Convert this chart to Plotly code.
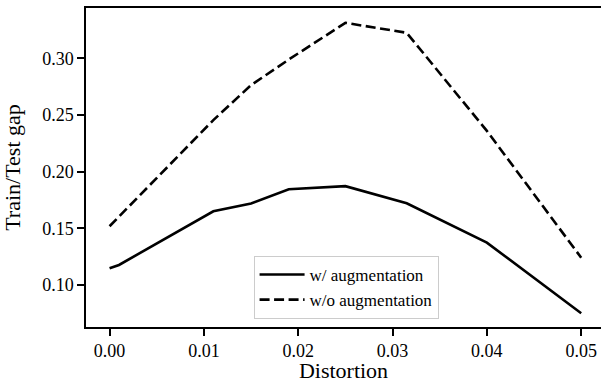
import plotly.graph_objects as go

# Data
x_aug = [0.0, 0.001, 0.011, 0.015, 0.019, 0.025, 0.0315, 0.040, 0.050]
y_aug = [0.1147, 0.1176, 0.1650, 0.1718, 0.1845, 0.1872, 0.1720, 0.1373, 0.0750]

x_noaug = [0.0, 0.011, 0.015, 0.019, 0.025, 0.0315, 0.040, 0.050]
y_noaug = [0.1518, 0.2455, 0.2764, 0.2990, 0.3314, 0.3226, 0.2360, 0.1240]

x_ticks = [0.00, 0.01, 0.02, 0.03, 0.04, 0.05]
y_ticks = [0.10, 0.15, 0.20, 0.25, 0.30]

FONT = "Liberation Serif"

fig = go.Figure()
fig.add_trace(go.Scatter(x=x_aug, y=y_aug, mode="lines", name="w/ augmentation",
                         line=dict(color="black", width=2.6)))
fig.add_trace(go.Scatter(x=x_noaug, y=y_noaug, mode="lines", name="w/o augmentation",
                         line=dict(color="black", width=2.6, dash="10px,4.5px")))

fig.update_layout(
    width=601, height=383,
    margin=dict(l=86, r=0, t=8, b=56),
    paper_bgcolor="white", plot_bgcolor="white",
    font=dict(family=FONT, size=18, color="black"),
    showlegend=True,
    legend=dict(x=0.505, xanchor="center", y=0.025, yanchor="bottom",
                bgcolor="rgba(255,255,255,0.8)", bordercolor="#cccccc", borderwidth=1,
                font=dict(family=FONT, size=17), tracegroupgap=0, itemwidth=45),
)
fig.update_xaxes(
    automargin=False,
    range=[-0.0025, 0.0521], tickvals=x_ticks, tickformat=".2f",
    showline=True, linecolor="black", linewidth=1.5, mirror=True,
    ticks="outside", ticklen=7, tickwidth=1.5, tickcolor="black",
    showgrid=False, zeroline=False,
    title=dict(text="Distortion", font=dict(family=FONT, size=22)),
    tickfont=dict(family=FONT, size=18),
)
fig.update_yaxes(
    automargin=False,
    range=[0.0628, 0.3445], tickvals=y_ticks, tickformat=".2f",
    showline=True, linecolor="black", linewidth=1.5, mirror=False,
    ticks="outside", ticklen=7, tickwidth=1.5, tickcolor="black",
    showgrid=False, zeroline=False,
    title=dict(text="Train/Test gap", font=dict(family=FONT, size=22)),
    tickfont=dict(family=FONT, size=18),
)

fig.write_html("out.html", config={"displayModeBar": False},
               post_script="document.body.style.margin='0';")
